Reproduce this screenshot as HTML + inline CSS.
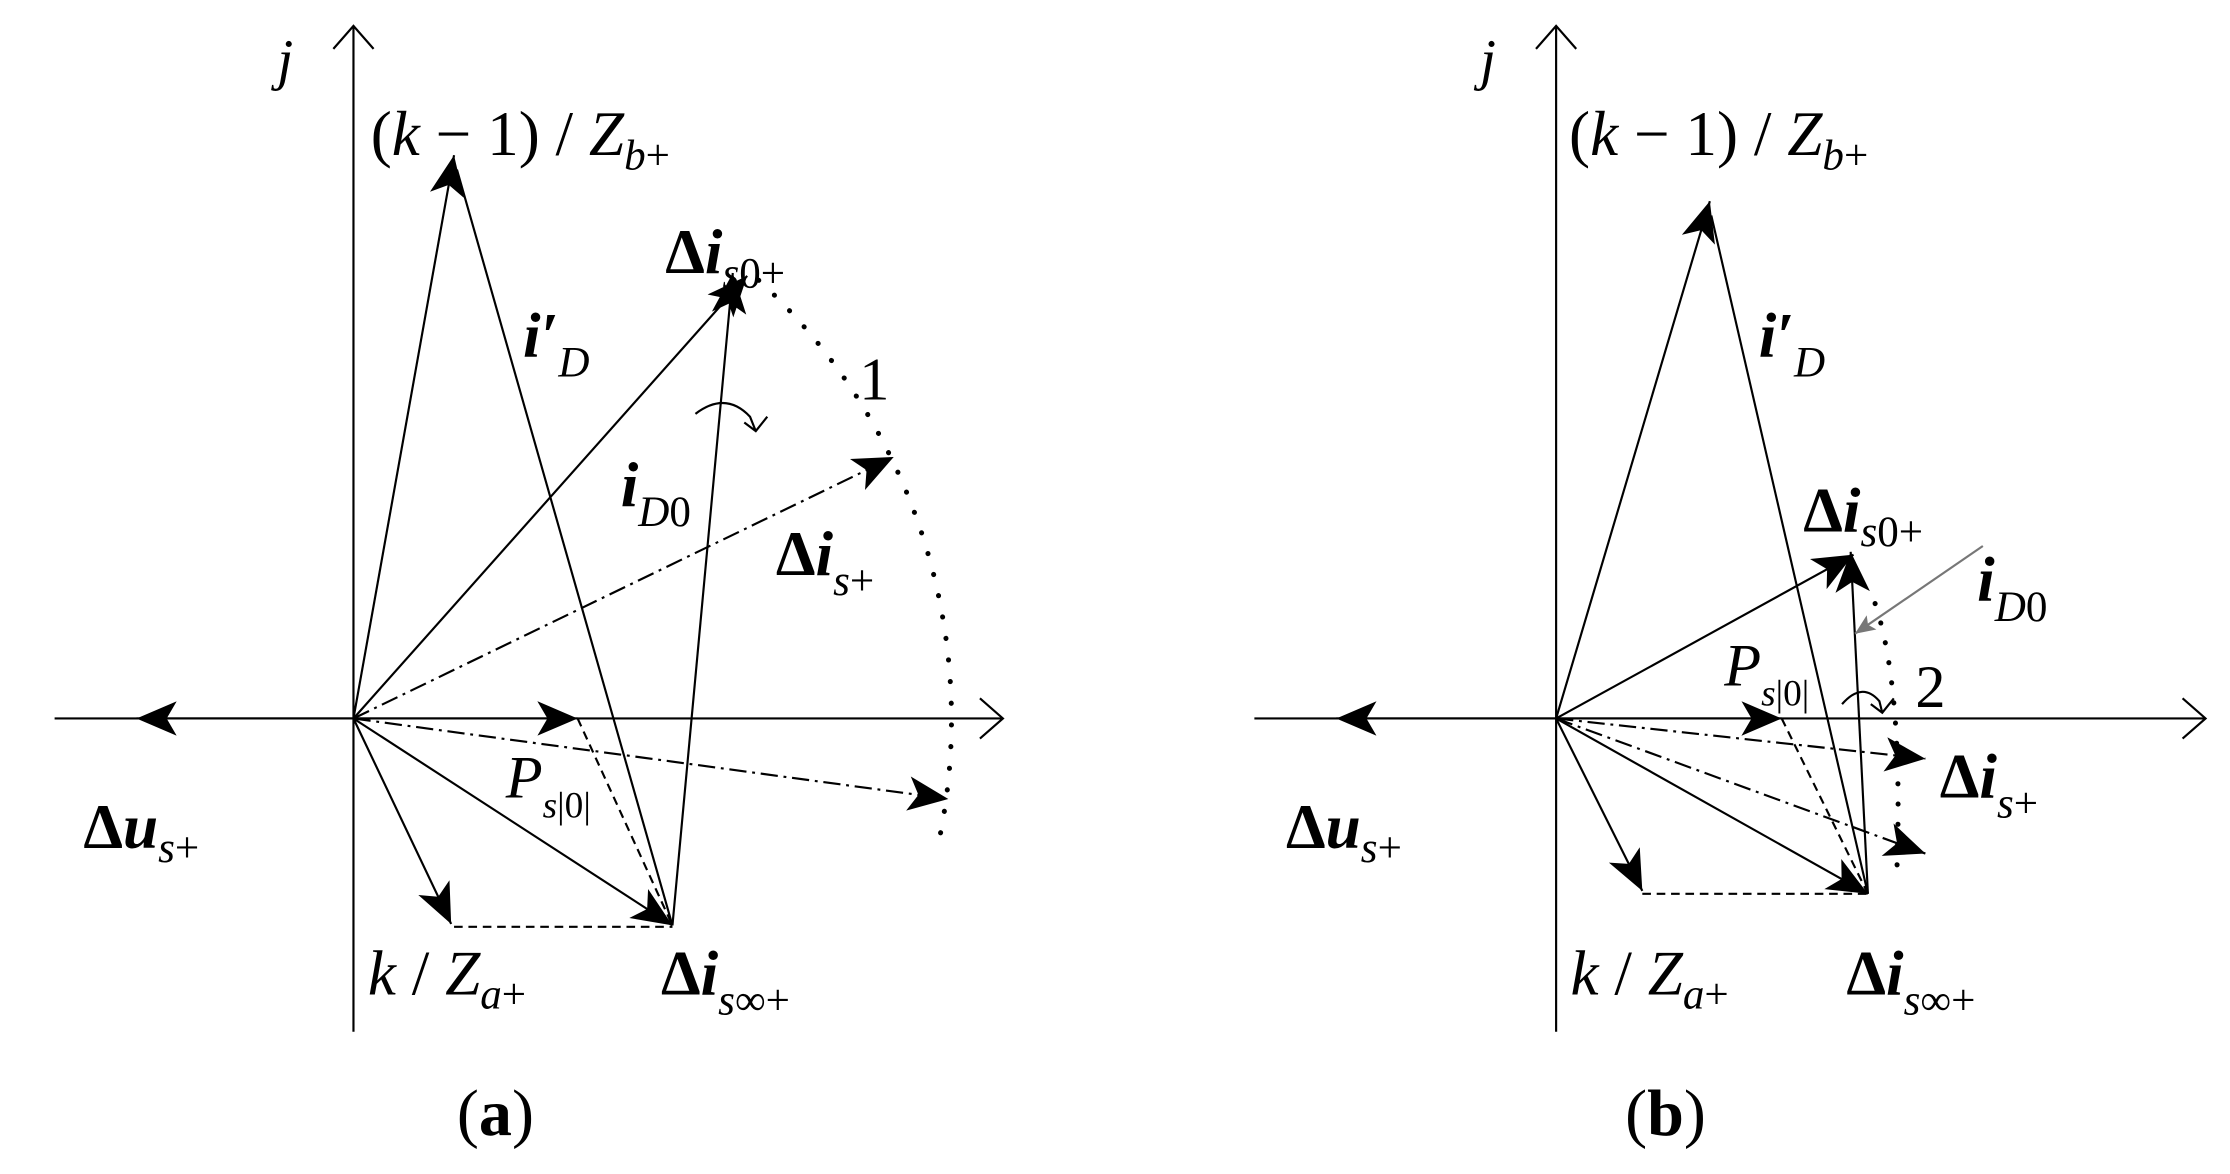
<!DOCTYPE html>
<html><head><meta charset="utf-8"><style>
html,body{margin:0;padding:0;background:#fff;}
svg{display:block;}
text{font-family:"Liberation Serif",serif;fill:#000;}
.it{font-style:italic;}
.b{font-weight:bold;}
</style></head><body>
<svg width="2230" height="1174" viewBox="0 0 1552 817" preserveAspectRatio="none" xmlns="http://www.w3.org/2000/svg">
<defs>
<marker id="a" markerUnits="userSpaceOnUse" markerWidth="34" markerHeight="30" refX="28" refY="12" orient="auto">
<path d="M0,0 L28,12 L0,24 L7,12 Z" fill="#000"/>
</marker>
<marker id="g" markerUnits="userSpaceOnUse" markerWidth="20" markerHeight="16" refX="14" refY="6" orient="auto">
<path d="M0,0 L14,6 L0,12 L3,6 Z" fill="#777"/>
</marker>
</defs>
<g stroke="#000" stroke-width="1.5" fill="none">
<line x1="246" y1="18" x2="246" y2="718"/>
<polyline points="232,34 246,18 260,34"/>
<line x1="38" y1="500" x2="698" y2="500"/>
<polyline points="682,486 698,500 682,514"/>
<line x1="246" y1="500" x2="95" y2="500" marker-end="url(#a)"/>
<line x1="246" y1="500" x2="316" y2="108" marker-end="url(#a)"/>
<line x1="318" y1="118" x2="468" y2="644"/>
<line x1="246" y1="500" x2="520" y2="192" marker-end="url(#a)"/>
<line x1="468" y1="644" x2="510" y2="190" marker-end="url(#a)"/>
<line x1="246" y1="500" x2="622" y2="318" stroke-dasharray="12,4,2,4" marker-end="url(#a)"/>
<line x1="246" y1="500" x2="660" y2="556" stroke-dasharray="12,4,2,4" marker-end="url(#a)"/>
<line x1="246" y1="500" x2="402" y2="500" marker-end="url(#a)"/>
<line x1="402" y1="500" x2="468" y2="644" stroke-dasharray="6,4"/>
<line x1="246" y1="500" x2="314" y2="643" marker-end="url(#a)"/>
<line x1="316" y1="645" x2="468" y2="645" stroke-dasharray="6,4"/>
<line x1="246" y1="500" x2="468" y2="644" marker-end="url(#a)"/>
<path d="M528,195 A415,415 0 0 1 652,592" stroke-width="3.5" stroke-dasharray="0.1,15" stroke-linecap="round"/>
<path d="M484,288 Q505,272 522,290 L526,300 M518,294 L526,300 L534,290"/>
<line x1="1083" y1="18" x2="1083" y2="718"/>
<polyline points="1069,34 1083,18 1097,34"/>
<line x1="873" y1="500" x2="1535" y2="500"/>
<polyline points="1519,486 1535,500 1519,514"/>
<line x1="1083" y1="500" x2="930" y2="500" marker-end="url(#a)"/>
<line x1="1083" y1="500" x2="1190" y2="140" marker-end="url(#a)"/>
<line x1="1191" y1="150" x2="1300" y2="622"/>
<line x1="1083" y1="500" x2="1290" y2="386" marker-end="url(#a)"/>
<line x1="1300" y1="622" x2="1288" y2="384" marker-end="url(#a)"/>
<line x1="1083" y1="500" x2="1340" y2="528" stroke-dasharray="12,4,2,4" marker-end="url(#a)"/>
<line x1="1083" y1="500" x2="1340" y2="594" stroke-dasharray="12,4,2,4" marker-end="url(#a)"/>
<line x1="1083" y1="500" x2="1240" y2="500" marker-end="url(#a)"/>
<line x1="1240" y1="500" x2="1300" y2="622" stroke-dasharray="6,4"/>
<line x1="1083" y1="500" x2="1143" y2="620" marker-end="url(#a)"/>
<line x1="1143" y1="622" x2="1300" y2="622" stroke-dasharray="6,4"/>
<line x1="1083" y1="500" x2="1300" y2="622" marker-end="url(#a)"/>
<path d="M1305,420 Q1325,480 1320,610" stroke-width="3.5" stroke-dasharray="0.1,14" stroke-linecap="round"/>
<path d="M1282,490 Q1296,474 1308,488 L1310,496 M1302,490 L1310,496 L1318,486"/>
<line x1="1380" y1="380" x2="1291" y2="441" stroke="#777" marker-end="url(#g)"/>
</g>
<text x="193" y="55" font-size="40" class="it">j</text>
<text x="258" y="108" font-size="44">(<tspan class="it">k</tspan> − 1) / <tspan class="it">Z</tspan><tspan class="it" font-size="30" dy="10">b</tspan><tspan font-size="30">+</tspan></text>
<text x="364" y="248" font-size="44" class="b it">i′<tspan font-size="30" font-weight="normal" dy="14">D</tspan></text>
<text x="463" y="190" font-size="44" class="b">Δ<tspan class="it">i</tspan><tspan font-size="30" font-weight="normal" class="it" dy="10">s</tspan><tspan font-size="30" font-weight="normal">0+</tspan></text>
<text x="598" y="278" font-size="42">1</text>
<text x="432" y="352" font-size="44" class="b it">i<tspan font-size="30" font-weight="normal" dy="14">D</tspan><tspan font-size="30" font-weight="normal" font-style="normal">0</tspan></text>
<text x="540" y="400" font-size="44" class="b">Δ<tspan class="it">i</tspan><tspan font-size="30" font-weight="normal" class="it" dy="14">s</tspan><tspan font-size="30" font-weight="normal">+</tspan></text>
<text x="352" y="555" font-size="42" class="it">P<tspan font-size="26" dy="14">s</tspan><tspan font-size="26" font-style="normal">|0|</tspan></text>
<text x="58" y="590" font-size="44" class="b">Δ<tspan class="it">u</tspan><tspan font-size="30" font-weight="normal" class="it" dy="10">s</tspan><tspan font-size="30" font-weight="normal">+</tspan></text>
<text x="256" y="692" font-size="44"><tspan class="it">k</tspan> / <tspan class="it">Z</tspan><tspan class="it" font-size="30" dy="10">a</tspan><tspan font-size="30">+</tspan></text>
<text x="460" y="692" font-size="44" class="b">Δ<tspan class="it">i</tspan><tspan font-size="30" font-weight="normal" class="it" dy="14">s</tspan><tspan font-size="30" font-weight="normal">∞+</tspan></text>
<text x="318" y="790" font-size="46">(<tspan class="b">a</tspan>)</text>
<text x="1030" y="55" font-size="40" class="it">j</text>
<text x="1092" y="108" font-size="44">(<tspan class="it">k</tspan> − 1) / <tspan class="it">Z</tspan><tspan class="it" font-size="30" dy="10">b</tspan><tspan font-size="30">+</tspan></text>
<text x="1224" y="248" font-size="44" class="b it">i′<tspan font-size="30" font-weight="normal" dy="14">D</tspan></text>
<text x="1255" y="370" font-size="44" class="b">Δ<tspan class="it">i</tspan><tspan font-size="30" font-weight="normal" class="it" dy="10">s</tspan><tspan font-size="30" font-weight="normal">0+</tspan></text>
<text x="1376" y="418" font-size="44" class="b it">i<tspan font-size="30" font-weight="normal" dy="14">D</tspan><tspan font-size="30" font-weight="normal" font-style="normal">0</tspan></text>
<text x="1200" y="477" font-size="42" class="it">P<tspan font-size="26" dy="14">s</tspan><tspan font-size="26" font-style="normal">|0|</tspan></text>
<text x="1333" y="492" font-size="42">2</text>
<text x="1350" y="555" font-size="44" class="b">Δ<tspan class="it">i</tspan><tspan font-size="30" font-weight="normal" class="it" dy="14">s</tspan><tspan font-size="30" font-weight="normal">+</tspan></text>
<text x="895" y="590" font-size="44" class="b">Δ<tspan class="it">u</tspan><tspan font-size="30" font-weight="normal" class="it" dy="10">s</tspan><tspan font-size="30" font-weight="normal">+</tspan></text>
<text x="1093" y="692" font-size="44"><tspan class="it">k</tspan> / <tspan class="it">Z</tspan><tspan class="it" font-size="30" dy="10">a</tspan><tspan font-size="30">+</tspan></text>
<text x="1285" y="692" font-size="44" class="b">Δ<tspan class="it">i</tspan><tspan font-size="30" font-weight="normal" class="it" dy="14">s</tspan><tspan font-size="30" font-weight="normal">∞+</tspan></text>
<text x="1131" y="790" font-size="46">(<tspan class="b">b</tspan>)</text>
</svg>
</body></html>
